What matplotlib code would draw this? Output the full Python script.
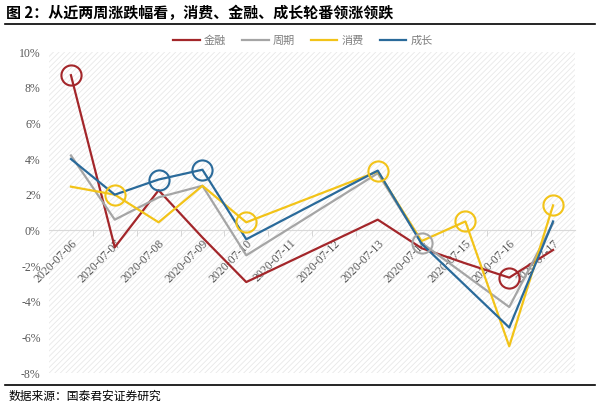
import matplotlib.pyplot as plt
from matplotlib.patches import Rectangle
from matplotlib.lines import Line2D

plt.rcParams['font.family'] = ['Liberation Serif', 'Noto Sans CJK SC', 'DejaVu Sans']
plt.rcParams['hatch.linewidth'] = 0.6

# all dates on the axis (weekend included, no data there)
tick_labels = ['2020-07-06', '2020-07-07', '2020-07-08', '2020-07-09', '2020-07-10',
               '2020-07-11', '2020-07-12', '2020-07-13', '2020-07-14', '2020-07-15',
               '2020-07-16', '2020-07-17']
dates = ['2020-07-06', '2020-07-07', '2020-07-08', '2020-07-09', '2020-07-10',
         '2020-07-13', '2020-07-14', '2020-07-15', '2020-07-16', '2020-07-17']

finance = [8.7, -0.95, 2.25, -0.4, -2.9, 0.6, -1.0, -1.85, -2.65, -1.1]
cycle = [4.2, 0.6, 1.85, 2.5, -1.4, 3.2, -0.7, -2.5, -4.3, 0.4]
consume = [2.45, 2.0, 0.45, 2.5, 0.45, 3.3, -0.6, 0.5, -6.5, 1.4]
growth = [4.0, 2.0, 2.85, 3.4, -0.5, 3.35, -0.75, -3.1, -5.45, 0.5]

names = ['金融', '周期', '消费', '成长']
colors = ['#A3262A', '#A5A5A5', '#F2C318', '#2A6A9A']
# dates that carry a circle, per series
circled = [['2020-07-06', '2020-07-16'],
           ['2020-07-14'],
           ['2020-07-07', '2020-07-10', '2020-07-13', '2020-07-15', '2020-07-17'],
           ['2020-07-08', '2020-07-09']]

fig = plt.figure(figsize=(6, 4.07), dpi=100)
ax = fig.add_axes([0.0817, 0.0835, 0.8766, 0.7887])

ax.add_patch(Rectangle((0, 0), 1, 1, transform=ax.transAxes, facecolor='white',
                       edgecolor='#E8E8E8', hatch='//////', lw=0, zorder=0))

x = [tick_labels.index(d) for d in dates]
for vals, col, circ in zip([finance, cycle, consume, growth], colors, circled):
    ax.plot(x, vals, color=col, lw=1.6, zorder=3)
    cx = [tick_labels.index(d) for d in circ]
    cy = [vals[dates.index(d)] for d in circ]
    ax.plot(cx, cy, 'o', ms=14.5, mfc='none', mec=col, mew=1.5, zorder=4)

ax.set_xlim(-0.5, len(tick_labels) - 0.5)
ax.set_ylim(-8, 10)
ax.set_yticks(range(-8, 11, 2))
ax.set_yticklabels([f'{v}%' for v in range(-8, 11, 2)], fontsize=8.5, color='#595959')
ax.tick_params(axis='y', length=0, pad=6)

ax.spines['bottom'].set_position(('data', 0))
ax.spines['bottom'].set_color('#D9D9D9')
for s in ['top', 'right', 'left']:
    ax.spines[s].set_visible(False)

ax.set_xticks(range(len(tick_labels)))
ax.set_xticklabels(tick_labels, rotation=45, ha='right', rotation_mode='anchor',
                   fontsize=8.5, color='#595959')
ax.tick_params(axis='x', length=0, pad=5)
ax.set_xticks([i + 0.5 for i in range(len(tick_labels) - 1)], minor=True)
ax.tick_params(axis='x', which='minor', length=4, color='#D0D0D0', direction='out')

handles = [Line2D([0], [0], color=c, lw=1.6) for c in colors]
leg = fig.legend(handles, names, loc='center', bbox_to_anchor=(0.505, 0.9), ncol=4,
                 frameon=False, fontsize=8, handlelength=2.4, columnspacing=1.4,
                 handletextpad=0.4)
for t in leg.get_texts():
    t.set_color('#7F7F7F')
    t.set_family(['Noto Sans CJK SC'])

fig.text(0.01, 0.968, '图 2：从近两周涨跌幅看，消费、金融、成长轮番领涨领跌',
         fontsize=10.8, fontweight='bold', family=['Noto Sans CJK SC'], va='center')
fig.add_artist(Line2D([0.008, 0.992], [0.94, 0.94], color='black', lw=1.2))
fig.add_artist(Line2D([0.008, 0.992], [0.055, 0.055], color='black', lw=1.2))
fig.text(0.015, 0.026, '数据来源：国泰君安证券研究', fontsize=8.5,
         family=['Noto Sans CJK SC'], va='center')

fig.savefig('out.png', dpi=100)
